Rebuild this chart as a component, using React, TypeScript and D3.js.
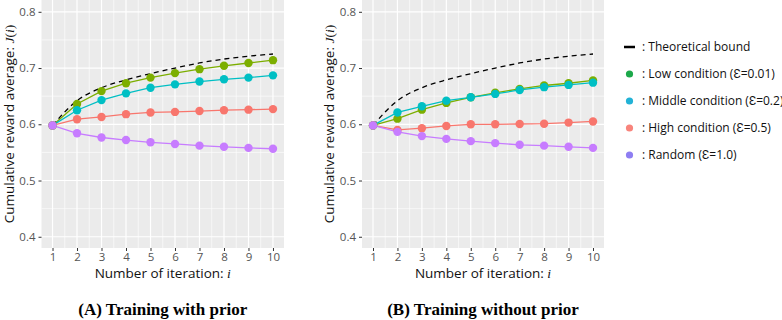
import React, { useEffect, useRef } from 'react';
import * as d3 from 'd3';

// iterations on the x axis
const iterations = [1, 2, 3, 4, 5, 6, 7, 8, 9, 10];

// theoretical bound (same in both panels)
const boundValues = [0.598, 0.642, 0.665, 0.679, 0.690, 0.700, 0.709, 0.716, 0.721, 0.725];

// (A) training with prior
const priorLow = [0.598, 0.636, 0.659, 0.673, 0.683, 0.691, 0.698, 0.704, 0.709, 0.714];
const priorMiddle = [0.598, 0.625, 0.643, 0.655, 0.665, 0.671, 0.676, 0.680, 0.683, 0.687];
const priorHigh = [0.598, 0.609, 0.613, 0.618, 0.621, 0.622, 0.6235, 0.625, 0.626, 0.627];
const priorRandom = [0.598, 0.584, 0.5765, 0.572, 0.568, 0.565, 0.562, 0.560, 0.558, 0.5565];

// (B) training without prior
const noPriorLow = [0.598, 0.610, 0.626, 0.638, 0.648, 0.656, 0.663, 0.669, 0.673, 0.678];
const noPriorMiddle = [0.598, 0.621, 0.632, 0.642, 0.648, 0.654, 0.661, 0.666, 0.670, 0.674];
const noPriorHigh = [0.598, 0.590, 0.593, 0.597, 0.600, 0.600, 0.6005, 0.601, 0.603, 0.605];
const noPriorRandom = [0.598, 0.5865, 0.579, 0.574, 0.570, 0.5665, 0.5635, 0.562, 0.560, 0.558];

const yTicks = [0.4, 0.5, 0.6, 0.7, 0.8];
const yMinor = [0.45, 0.55, 0.65, 0.75];

const lineColors = ['#7CAE00', '#00BFC4', '#F8766D', '#C77CFF'];
const legendColors = ['#1CA84A', '#22B2D6', '#F8847C', '#8E7EF2'];
const legendLabels = [
  ': Theoretical bound',
  ': Low condition (\u0190=0.01)',
  ': Middle condition (\u0190=0.2)',
  ': High condition (\u0190=0.5)',
  ': Random (\u0190=1.0)',
];

const panels = [
  { left: 41.5, right: 284, caption: '(A) Training with prior', series: [priorLow, priorMiddle, priorHigh, priorRandom] },
  { left: 362, right: 604, caption: '(B) Training without prior', series: [noPriorLow, noPriorMiddle, noPriorHigh, noPriorRandom] },
];

const App: React.FC = () => {
  const svgRef = useRef<SVGSVGElement>(null);

  useEffect(() => {
    if (!svgRef.current) return;
    const svg = d3.select(svgRef.current);
    svg.selectAll('*').remove();

    const top = 0;
    const bottom = 248;
    const sans = "'Open Sans', sans-serif";

    const y = d3.scaleLinear().domain([0.38, 0.821]).range([bottom, top]);

    panels.forEach(p => {
      const x = d3.scaleLinear().domain([0.55, 10.45]).range([p.left, p.right]);
      const g = svg.append('g');

      // panel background
      g.append('rect')
        .attr('x', p.left)
        .attr('y', top)
        .attr('width', p.right - p.left)
        .attr('height', bottom - top)
        .attr('fill', '#EBEBEB');

      // minor grid
      yMinor.forEach(v => {
        g.append('line')
          .attr('x1', p.left).attr('x2', p.right)
          .attr('y1', y(v)).attr('y2', y(v))
          .attr('stroke', '#fff').attr('stroke-width', 0.6);
      });
      iterations.slice(0, -1).forEach(i => {
        g.append('line')
          .attr('x1', x(i + 0.5)).attr('x2', x(i + 0.5))
          .attr('y1', top).attr('y2', bottom)
          .attr('stroke', '#fff').attr('stroke-width', 0.6);
      });

      // major grid
      yTicks.forEach(v => {
        g.append('line')
          .attr('x1', p.left).attr('x2', p.right)
          .attr('y1', y(v)).attr('y2', y(v))
          .attr('stroke', '#fff').attr('stroke-width', 1.2);
      });
      iterations.forEach(i => {
        g.append('line')
          .attr('x1', x(i)).attr('x2', x(i))
          .attr('y1', top).attr('y2', bottom)
          .attr('stroke', '#fff').attr('stroke-width', 1.2);
      });

      // axes
      const yAxis = g.append('g')
        .attr('transform', `translate(${p.left},0)`)
        .call(d3.axisLeft(y).tickValues(yTicks).tickFormat(d3.format('.1f')).tickSize(3).tickPadding(3));
      yAxis.select('.domain').remove();
      yAxis.selectAll('line').attr('stroke', '#333');
      yAxis.selectAll('text').attr('fill', '#555').style('font-family', sans).style('font-size', '11.5px');

      const xAxis = g.append('g')
        .attr('transform', `translate(0,${bottom})`)
        .call(d3.axisBottom(x).tickValues(iterations).tickFormat(d3.format('d')).tickSize(3).tickPadding(2));
      xAxis.select('.domain').remove();
      xAxis.selectAll('line').attr('stroke', '#333');
      xAxis.selectAll('text').attr('fill', '#555').style('font-family', sans).style('font-size', '11.5px');

      const line = d3.line<number>()
        .x((d, i) => x(iterations[i]))
        .y(d => y(d))
        .curve(d3.curveLinear);

      // series lines
      p.series.forEach((s, k) => {
        g.append('path')
          .datum(s)
          .attr('d', line)
          .attr('fill', 'none')
          .attr('stroke', lineColors[k])
          .attr('stroke-width', 1.3);
      });

      // theoretical bound
      g.append('path')
        .datum(boundValues)
        .attr('d', d3.line<number>().x((d, i) => x(iterations[i])).y(d => y(d)).curve(d3.curveMonotoneX))
        .attr('fill', 'none')
        .attr('stroke', '#000')
        .attr('stroke-width', 1.3)
        .attr('stroke-dasharray', '5,4');

      // points
      p.series.forEach((s, k) => {
        g.selectAll(null)
          .data(s)
          .enter()
          .append('circle')
          .attr('cx', (d, i) => x(iterations[i]))
          .attr('cy', d => y(d))
          .attr('r', 4.2)
          .attr('fill', lineColors[k]);
      });

      const cx = (p.left + p.right) / 2;

      // x title
      const xt = g.append('text')
        .attr('x', cx)
        .attr('y', 278)
        .attr('text-anchor', 'middle')
        .style('font-family', sans)
        .style('font-size', '13.5px')
        .attr('fill', '#111');
      xt.append('tspan').text('Number of iteration: ');
      xt.append('tspan').style('font-family', "'Liberation Serif', serif").style('font-style', 'italic').text('i');

      // y title
      const yt = g.append('text')
        .attr('transform', `translate(${p.left - 28},${(top + bottom) / 2}) rotate(-90)`)
        .attr('text-anchor', 'middle')
        .style('font-family', sans)
        .style('font-size', '13.5px')
        .attr('fill', '#111');
      yt.append('tspan').text('Cumulative reward average:  ');
      yt.append('tspan').style('font-family', "'Liberation Serif', serif").style('font-style', 'italic').text('J');
      yt.append('tspan').style('font-family', "'Liberation Serif', serif").text('(');
      yt.append('tspan').style('font-family', "'Liberation Serif', serif").style('font-style', 'italic').text('i');
      yt.append('tspan').style('font-family', "'Liberation Serif', serif").text(')');

      // caption
      g.append('text')
        .attr('x', cx)
        .attr('y', 315)
        .attr('text-anchor', 'middle')
        .style('font-family', "'Liberation Serif', 'Times New Roman', serif")
        .style('font-weight', 'bold')
        .style('font-size', '17px')
        .attr('fill', '#000')
        .text(p.caption);
    });

    // legend
    const lg = svg.append('g');
    const rowY = (i: number) => 47 + i * 27;
    legendLabels.forEach((label, i) => {
      if (i === 0) {
        lg.append('line')
          .attr('x1', 624).attr('x2', 635)
          .attr('y1', rowY(i)).attr('y2', rowY(i))
          .attr('stroke', '#000').attr('stroke-width', 2.5);
      } else {
        lg.append('circle')
          .attr('cx', 629.5)
          .attr('cy', rowY(i))
          .attr('r', 3.6)
          .attr('fill', legendColors[i - 1]);
      }
      lg.append('text')
        .attr('x', 642)
        .attr('y', rowY(i))
        .attr('dy', '0.35em')
        .style('font-family', "'Open Sans', sans-serif")
        .style('font-size', '12px')
        .attr('fill', '#111')
        .text(label);
    });
  }, []);

  return (
    <svg
      ref={svgRef}
      width={782}
      height={320}
      style={{ position: 'absolute', left: 0, top: 0, background: '#fff' }}
    />
  );
};

export default App;
